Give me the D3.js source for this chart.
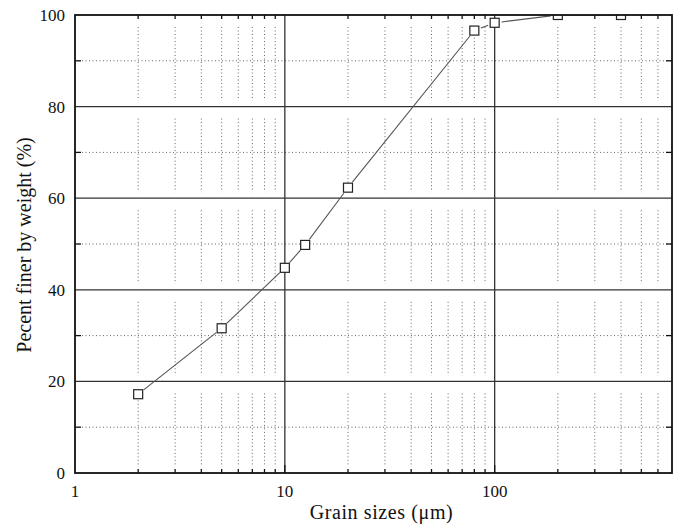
<!DOCTYPE html>
<html>
<head>
<meta charset="utf-8">
<script src="https://cdn.jsdelivr.net/npm/d3@7"></script>
<style>
  body { margin: 0; background: #fff; }
  text { font-family: 'Liberation Serif', 'Times New Roman', serif; fill: #111; }
</style>
</head>
<body>
<div id="chart"></div>
<script>
// grain size distribution (log x)
let grainSizes = [2, 5, 10, 12.5, 20, 80, 100, 200, 400]
let percentFiner = [17.2, 31.6, 44.8, 49.8, 62.3, 96.6, 98.3, 100, 100]

let xTickValues = [1, 10, 100]
let yTickValues = [0, 20, 40, 60, 80, 100]
let yMinorValues = [10, 30, 50, 70, 90]
let xMinorValues = [2, 3, 4, 5, 6, 7, 8, 9, 20, 30, 40, 50, 60, 70, 80, 90, 200, 300, 400, 500, 600]

let margin = { top: 15, left: 75, right: 7, bottom: 55 }
let width = 679 - margin.left - margin.right
let height = 528 - margin.top - margin.bottom

let svg = d3
  .select('#chart')
  .append('svg')
  .attr('width', width + margin.left + margin.right)
  .attr('height', height + margin.top + margin.bottom)
  .append('g')
  .attr('transform', 'translate(' + margin.left + ',' + margin.top + ')')

let xPositionScale = d3.scaleLog().domain([1, 700]).range([0, width])
let yPositionScale = d3.scaleLinear().domain([0, 100]).range([height, 0])

svg.append('clipPath').attr('id', 'clip')
  .append('rect').attr('width', width).attr('height', height)

// dotted minor grid, horizontal
svg.selectAll('.minor-h')
  .data(yMinorValues)
  .enter()
  .append('line')
  .attr('class', 'minor-h')
  .attr('x1', 0)
  .attr('x2', width)
  .attr('y1', d => yPositionScale(d))
  .attr('y2', d => yPositionScale(d))
  .attr('stroke', '#666')
  .attr('stroke-width', 1)
  .attr('stroke-dasharray', '1,2.5')

// dotted minor grid, vertical - broken near the solid rows
let bands = d3.pairs(yTickValues)
xMinorValues.forEach(v => {
  svg.selectAll(null)
    .data(bands)
    .enter()
    .append('line')
    .attr('x1', xPositionScale(v))
    .attr('x2', xPositionScale(v))
    .attr('y1', d => yPositionScale(d[1]) + 12)
    .attr('y2', d => yPositionScale(d[0]) - 6)
    .attr('stroke', '#666')
    .attr('stroke-width', 1)
    .attr('stroke-dasharray', '1,2.5')
})

// solid major grid
svg.selectAll('.major-h')
  .data(yTickValues.slice(1, -1))
  .enter()
  .append('line')
  .attr('x1', 0)
  .attr('x2', width)
  .attr('y1', d => yPositionScale(d))
  .attr('y2', d => yPositionScale(d))
  .attr('stroke', '#333')
  .attr('stroke-width', 1.3)

svg.selectAll('.major-v')
  .data(xTickValues.slice(1))
  .enter()
  .append('line')
  .attr('x1', d => xPositionScale(d))
  .attr('x2', d => xPositionScale(d))
  .attr('y1', 0)
  .attr('y2', height)
  .attr('stroke', '#333')
  .attr('stroke-width', 1.3)

// ticks on all four sides, pointing in
let tickG = svg.append('g').attr('stroke', '#111').attr('stroke-width', 1.3)
xMinorValues.forEach(v => {
  tickG.append('line').attr('x1', xPositionScale(v)).attr('x2', xPositionScale(v))
    .attr('y1', height).attr('y2', height - 4)
  tickG.append('line').attr('x1', xPositionScale(v)).attr('x2', xPositionScale(v))
    .attr('y1', 0).attr('y2', 4)
})
xTickValues.slice(1).forEach(v => {
  tickG.append('line').attr('x1', xPositionScale(v)).attr('x2', xPositionScale(v))
    .attr('y1', height).attr('y2', height - 8)
})
yMinorValues.forEach(v => {
  tickG.append('line').attr('x1', 0).attr('x2', 6)
    .attr('y1', yPositionScale(v)).attr('y2', yPositionScale(v))
  tickG.append('line').attr('x1', width).attr('x2', width - 6)
    .attr('y1', yPositionScale(v)).attr('y2', yPositionScale(v))
})

// the data line, cut short around each marker
let pts = grainSizes.map((g, i) => [xPositionScale(g), yPositionScale(percentFiner[i])])
let gap = 7
let plotArea = svg.append('g').attr('clip-path', 'url(#clip)')
d3.pairs(pts).forEach(([a, b]) => {
  let dx = b[0] - a[0]
  let dy = b[1] - a[1]
  let len = Math.sqrt(dx * dx + dy * dy)
  if (len <= gap * 2) return
  plotArea.append('line')
    .attr('x1', a[0] + dx / len * gap)
    .attr('y1', a[1] + dy / len * gap)
    .attr('x2', b[0] - dx / len * gap)
    .attr('y2', b[1] - dy / len * gap)
    .attr('stroke', '#555')
    .attr('stroke-width', 1.1)
})

plotArea.selectAll('.marker')
  .data(pts)
  .enter()
  .append('rect')
  .attr('class', 'marker')
  .attr('x', d => d[0] - 4.5)
  .attr('y', d => d[1] - 4.5)
  .attr('width', 9)
  .attr('height', 9)
  .attr('fill', '#fff')
  .attr('stroke', '#222')
  .attr('stroke-width', 1.2)

// frame
svg.append('rect')
  .attr('width', width)
  .attr('height', height)
  .attr('fill', 'none')
  .attr('stroke', '#111')
  .attr('stroke-width', 1.8)

// tick labels
svg.selectAll('.x-label')
  .data(xTickValues)
  .enter()
  .append('text')
  .attr('x', d => xPositionScale(d))
  .attr('y', height + 24)
  .attr('text-anchor', 'middle')
  .attr('font-size', 17)
  .text(d => d)

svg.selectAll('.y-label')
  .data(yTickValues)
  .enter()
  .append('text')
  .attr('x', -10)
  .attr('y', d => yPositionScale(d))
  .attr('dy', '0.35em')
  .attr('text-anchor', 'end')
  .attr('font-size', 17)
  .text(d => d)

// axis titles
svg.append('text')
  .attr('x', width / 2 + 8)
  .attr('y', height + 46)
  .attr('text-anchor', 'middle')
  .attr('font-size', 20)
  .attr('letter-spacing', 0.6)
  .text('Grain sizes (μm)')

svg.append('text')
  .attr('transform', 'translate(' + (-44) + ',' + (height / 2 + 1) + ') rotate(-90)')
  .attr('text-anchor', 'middle')
  .attr('font-size', 20)
  .text('Pecent finer by weight (%)')
</script>
</body>
</html>
